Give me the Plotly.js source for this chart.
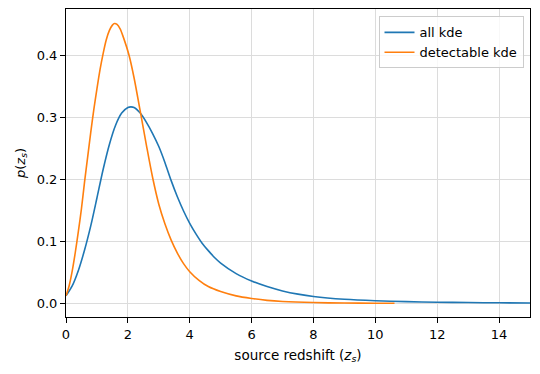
<!DOCTYPE html>
<html>
<head>
<meta charset="utf-8">
<script src="https://cdn.plot.ly/plotly-3.0.1.min.js"></script>
<style>html,body{margin:0;padding:0;background:#fff}#plot{width:540px;height:374px}</style>
</head>
<body>
<div id="plot"></div>
<script>
// all kde
const zAll = [0, 0.2, 0.4, 0.6, 0.8, 1.0, 1.2, 1.4, 1.6, 1.8, 2.0, 2.1, 2.2, 2.4, 2.6, 2.8, 3.0, 3.2, 3.4, 3.6, 3.8, 4.0, 4.2, 4.4, 4.6, 4.8, 5.0, 5.5, 6.0, 6.5, 7.0, 7.5, 8.0, 9.0, 10.0, 11.0, 12.0, 13.0, 14.0, 15.0];
const pAll = [0.012, 0.028, 0.053, 0.086, 0.125, 0.170, 0.216, 0.256, 0.287, 0.307, 0.316, 0.317, 0.316, 0.307, 0.292, 0.274, 0.253, 0.227, 0.198, 0.172, 0.149, 0.129, 0.112, 0.097, 0.085, 0.074, 0.065, 0.048, 0.036, 0.027, 0.020, 0.0148, 0.011, 0.0065, 0.0041, 0.0027, 0.0018, 0.0012, 0.0008, 0.0005];
// detectable kde
const zDet = [0, 0.1, 0.2, 0.3, 0.4, 0.5, 0.6, 0.7, 0.8, 0.9, 1.0, 1.1, 1.2, 1.3, 1.4, 1.5, 1.57, 1.65, 1.75, 1.85, 2.04, 2.2, 2.4, 2.6, 2.8, 3.0, 3.2, 3.4, 3.6, 3.8, 4.0, 4.3, 4.6, 5.0, 5.5, 6.0, 6.5, 7.0, 8.0, 9.0, 10.0, 10.62];
const pDet = [0.012, 0.028, 0.052, 0.082, 0.116, 0.153, 0.196, 0.236, 0.276, 0.313, 0.346, 0.377, 0.403, 0.425, 0.440, 0.449, 0.4516, 0.450, 0.443, 0.430, 0.400, 0.364, 0.310, 0.255, 0.203, 0.160, 0.128, 0.102, 0.081, 0.064, 0.051, 0.037, 0.027, 0.019, 0.012, 0.0078, 0.0048, 0.003, 0.0012, 0.0005, 0.0002, 0.0001];

const names = ['all kde', 'detectable kde'];
const xTicks = [0, 2, 4, 6, 8, 10, 12, 14];
const yTicks = [0.0, 0.1, 0.2, 0.3, 0.4];

const font = {family: 'DejaVu Sans, sans-serif', size: 13, color: '#000'};

const traces = [
  {x: zAll, y: pAll, name: names[0], type: 'scatter', mode: 'lines',
   line: {color: '#1f77b4', width: 1.6, shape: 'spline', smoothing: 0.8}},
  {x: zDet, y: pDet, name: names[1], type: 'scatter', mode: 'lines',
   line: {color: '#ff7f0e', width: 1.6, shape: 'spline', smoothing: 0.8}}
];

const axisCommon = {
  showline: true, linecolor: '#000', linewidth: 1, mirror: true,
  ticks: 'outside', ticklen: 5, tickwidth: 1, tickcolor: '#000',
  showgrid: true, gridcolor: '#dcdcdc', gridwidth: 1, zeroline: false,
  tickfont: font
};

const layout = {
  width: 540, height: 374,
  margin: {l: 66, r: 10, t: 9, b: 57},
  paper_bgcolor: '#fff', plot_bgcolor: '#fff',
  font: font,
  showlegend: true,
  legend: {
    x: 0.986, xanchor: 'right', y: 0.976, yanchor: 'top',
    bgcolor: 'rgba(255,255,255,0.8)', bordercolor: '#cccccc', borderwidth: 1,
    font: font, itemwidth: 30
  },
  xaxis: Object.assign({}, axisCommon, {
    range: [0, 15], tickvals: xTicks, ticktext: xTicks.map(String),
    title: {text: 'source redshift (<i>z<sub>s</sub></i>)', font: {family: font.family, size: 13.5, color: '#000'}, standoff: 9}
  }),
  yaxis: Object.assign({}, axisCommon, {
    range: [-0.0221, 0.475], tickvals: yTicks, ticktext: yTicks.map(v => v.toFixed(1)),
    title: {text: '<i>p</i>(<i>z<sub>s</sub></i>)', font: font, standoff: 8}
  })
};

Plotly.newPlot('plot', traces, layout, {displayModeBar: false, staticPlot: true});
</script>
</body>
</html>
